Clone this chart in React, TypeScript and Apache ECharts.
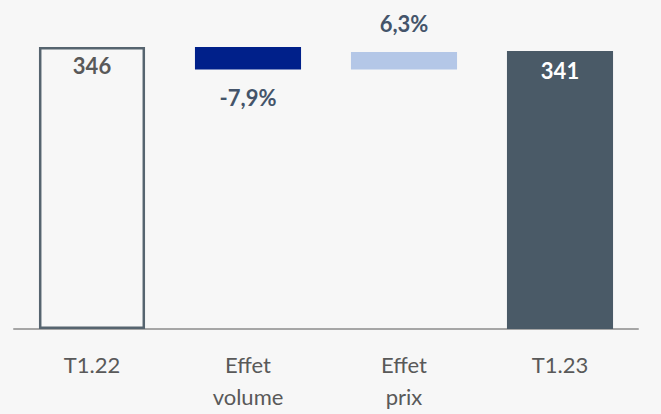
import React, { useEffect, useRef } from "react";
import * as echarts from "echarts";

const categories = ["T1.22", "Effet\nvolume", "Effet\nprix", "T1.23"];
const startValue = 346;
const volumeEffect = -27.5;
const priceEffect = 21.5;
const endValue = 341;
const valueLabels = ["346", "-7,9%", "6,3%", "341"];

const FONT = "Lato, 'Open Sans', sans-serif";

export default function App() {
  const ref = useRef<HTMLDivElement>(null);
  useEffect(() => {
    if (!ref.current) return;
    const chart = echarts.init(ref.current, undefined, { renderer: "svg" });
    const afterVolume = startValue + volumeEffect;
    const base = [0, afterVolume, afterVolume, 0];
    const heights = [startValue, -volumeEffect, priceEffect, endValue];
    const styles = [
      {
        itemStyle: { color: "#f7f7f7", borderColor: "#56646f", borderWidth: 2.5 },
        label: { position: "insideTop", distance: 7, color: "#595959" },
      },
      {
        itemStyle: { color: "#00208a" },
        label: { position: "bottom", distance: 17, color: "#44546a" },
      },
      {
        itemStyle: { color: "#b4c7e7" },
        label: { position: "top", distance: 17, color: "#44546a" },
      },
      {
        itemStyle: { color: "#4a5a67" },
        label: { position: "insideTop", distance: 8, color: "#ffffff" },
      },
    ];
    chart.setOption({
      animation: false,
      backgroundColor: "#f7f7f7",
      grid: { left: 14, right: 23, top: 3, bottom: 85 },
      xAxis: {
        type: "category",
        data: categories,
        axisLine: { show: true, lineStyle: { color: "#a6a6a6", width: 2 } },
        axisTick: { show: false },
        axisLabel: {
          color: "#595959",
          fontFamily: FONT,
          fontSize: 22,
          lineHeight: 32,
          margin: 19,
        },
      },
      yAxis: { type: "value", min: 0, max: 400, show: false },
      series: [
        {
          type: "bar",
          stack: "w",
          barWidth: "68%",
          silent: true,
          itemStyle: { color: "transparent" },
          data: base,
        },
        {
          type: "bar",
          stack: "w",
          barWidth: "68%",
          label: {
            show: true,
            fontFamily: FONT,
            fontSize: 22,
            fontWeight: "bold",
            formatter: (p: any) => valueLabels[p.dataIndex],
          },
          data: heights.map((v, i) => ({ value: v, ...styles[i] })),
        },
      ],
    });
    return () => chart.dispose();
  }, []);
  return (
    <div
      ref={ref}
      style={{ position: "fixed", left: 0, top: 0, width: 661, height: 414, background: "#f7f7f7" }}
    />
  );
}
